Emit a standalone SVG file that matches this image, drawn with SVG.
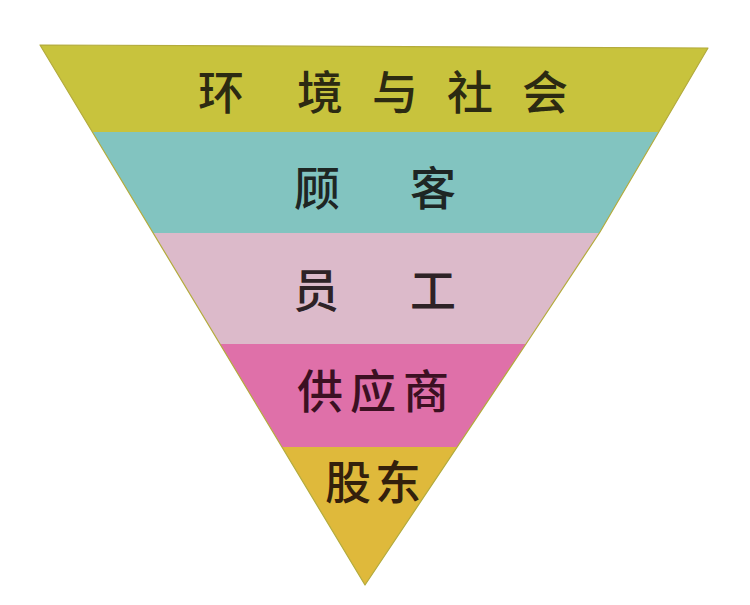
<svg xmlns="http://www.w3.org/2000/svg" width="750" height="605" viewBox="0 0 750 605">
<defs>
<style>
.t{font-family:"Noto Sans CJK SC","Noto Sans",sans-serif;font-size:46px;font-weight:500;text-anchor:middle;}
.edge{fill:none;stroke:#b3ab3c;stroke-width:1.2;stroke-linejoin:round;}
</style>
<clipPath id="tri"><polygon points="40,45 708,48 600,232 526,344 365,585"/></clipPath>
</defs>
<rect width="750" height="605" fill="#ffffff"/>
<g clip-path="url(#tri)">
<g id="band1">
<rect x="0" y="40" width="750" height="92" fill="#c8c33d"/>
<g class="t" fill="#2c2a12">
<text x="221" y="109">环</text><text x="320" y="109">境</text><text x="395" y="109">与</text><text x="470" y="109">社</text><text x="545" y="109">会</text>
</g>
</g>
<g id="band2">
<rect x="0" y="132" width="750" height="101" fill="#82c4c0"/>
<g class="t" fill="#1e2624">
<text x="317" y="205">顾</text><text x="433" y="205">客</text>
</g>
</g>
<g id="band3">
<rect x="0" y="233" width="750" height="111" fill="#dcbaca"/>
<g class="t" fill="#2e2226">
<text x="316" y="307">员</text><text x="433" y="307">工</text>
</g>
</g>
<g id="band4">
<rect x="0" y="344" width="750" height="103" fill="#df70a9"/>
<g class="t" fill="#3c1022">
<text x="320" y="408">供</text><text x="373" y="408">应</text><text x="426" y="408">商</text>
</g>
</g>
<g id="band5">
<rect x="0" y="447" width="750" height="140" fill="#dfb93b"/>
<g class="t" fill="#33200c">
<text x="348" y="499">股</text><text x="398" y="499">东</text>
</g>
</g>
</g>
<g id="connectors"></g>
<polygon class="edge" points="40,45 708,48 600,232 526,344 365,585"/>
</svg>
